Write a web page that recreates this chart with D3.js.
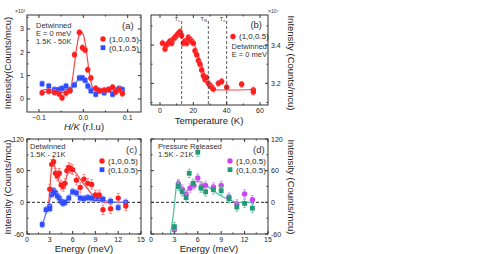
<!DOCTYPE html>
<html><head><meta charset="utf-8">
<script src="https://cdn.jsdelivr.net/npm/d3@7"></script>
<style>
body{margin:0;background:#fff}
svg{font-family:"Liberation Sans",Arial,sans-serif;display:block}
</style></head><body><div id="graph"></div>
<script>
// (a) H/K scans at E = 0, intensity x10^3
var aHK      = [-0.093,-0.078,-0.065,-0.055,-0.048,-0.039,-0.030,-0.020,-0.009,-0.002,0.004,0.010,0.017,0.028,0.036,0.047,0.057,0.066,0.073,0.081,0.088]
var aRed     = [0.27,0.33,0.28,0.22,0.05,0.25,0.35,1.9,2.85,2.2,2.1,1.25,0.9,0.45,0.35,0.38,0.4,0.5,0.3,0.4,0.23]
var aBlue    = [0.65,0.55,0.4,0.4,0.45,0.55,0.4,0.6,0.9,0.9,0.8,0.55,0.35,0.2,0.35,0.27,0.4,0.2,0.38,0.45,0.4]
var aFitHK   = [-0.09,-0.04,-0.03,-0.025,-0.02,-0.015,-0.01,-0.005,0,0.005,0.01,0.015,0.02,0.025,0.03,0.04,0.09]
var aFitRed  = [0.3,0.3,0.4,0.8,1.5,2.2,2.7,2.9,2.75,2.3,1.6,0.95,0.55,0.38,0.32,0.3,0.3]
var aFitBlue = [0.4,0.4,0.42,0.5,0.62,0.75,0.85,0.9,0.88,0.8,0.68,0.55,0.47,0.42,0.4,0.4,0.4]

// (b) temperature dependence of (1,0,0.5), intensity x10^4
var bT    = [1.5,3,4,5,6,7,8,9,10,11,12,13,14,15,16,17,18,19,20,21,22,23,24,25,26,27,28,29,30,31,32,35,37,40,49,56,56]
var bI    = [3.41,3.38,3.40,3.41,3.42,3.41,3.43,3.44,3.45,3.46,3.47,3.45,3.41,3.42,3.41,3.44,3.43,3.42,3.41,3.37,3.35,3.32,3.30,3.27,3.24,3.22,3.23,3.2,3.19,3.18,3.17,3.2,3.21,3.18,3.195,3.165,3.155]
var bFitT = [20,22,24,26,28,30,31,32,57]
var bFitI = [3.42,3.37,3.32,3.27,3.22,3.185,3.172,3.168,3.168]
var bLines = [13, 29, 40]
var bLineLabels = ['c', 'N', 's']

// (c) detwinned energy scans
var cE       = [3.0,3.25,3.5,3.75,4.0,4.25,4.5,4.75,5.0,5.25,5.5,5.75,6.0,6.5,7.0,7.5,8.0,8.5,9.0,9.5,10,11,12,13]
var cRed     = [25,72,77,55,50,55,33,30,36,60,66,64,62,42,28,44,36,34,14,14,-14,-12,8,-7]
var cBlueE   = [2.0,2.5,3.0,3.0,3.25,3.5,3.75,4.0,4.25,4.5,4.75,5.0,5.5,6.0,6.5,7.0,7.5,8.0,8.5,9.0,9.5,10,11,12,13]
var cBlue    = [-42,-14,-8,-12,15,22,18,12,8,2,-2,0,8,20,18,8,7,9,8,7,7,6,2,-10,0]
var cFitE    = [2.5,2.8,3.0,3.2,3.4,3.6,3.9,4.2,4.5,4.7,5.0,5.3,5.6,5.9,6.3,7.0,8.0,9.0,10,11,13]
var cFitRed  = [-22,-5,25,60,76,70,55,40,31,30,38,52,60,62,58,44,25,8,0,0,0]
var cFitBlueE= [2.0,2.4,2.8,3.1,3.4,3.7,4.0,4.4,4.7,5.0,5.4,5.8,6.1,6.5,7.0,8.0,9.0,10,11,13]
var cFitBlue = [-45,-25,-8,10,21,18,10,3,0,1,8,16,18,14,7,5,5,4,1,0]

// (d) pressure released energy scans
var dPurpleE = [3,3.5,4,4.5,5,5.5,6,6.5,7,8,9,10,11,12,13]
var dPurple  = [-52,35,25,15,27,32,46,30,32,29,32,10,-3,16,5]
var dGreenE  = [3,3.5,4,4.5,4.9,5.4,6,6.4,7,8,9,10,11,12,13]
var dGreen   = [-46,30,20,9,55,36,95,27,20,24,22,7,-9,-2,-11]
var dFitE    = [2.5,2.8,3.1,3.3,3.5,3.7,4.0,4.3,4.6,5.0,5.5,6.0,6.5,7.0,8.0,9.0,10,11,12,13]
var dFit     = [-60,-30,10,35,42,38,25,18,20,30,38,40,38,33,22,12,5,0,0,0]

var red = '#ff1f1f', redErr = '#ff7070', redFit = '#f24a4a'
var blue = '#2f4dff', blueErr = '#7d90ff', blueFit = '#5a72ff'
var purple = '#cc44f2', purpleErr = '#dd88f8'
var green = '#1f9b78', greenErr = '#62bea2', greenFit = '#4dbf9f'

var svg = d3.select('#graph').append('svg').attr('width', 492).attr('height', 254)

function panel(o){
  var g = svg.append('g').attr('transform', 'translate(' + o.left + ',' + o.top + ')')
  var x = d3.scaleLinear().domain(o.xDomain).range([0, o.width])
  var y = d3.scaleLinear().domain(o.yDomain).range([o.height, 0])
  g.append('defs').append('clipPath').attr('id', 'clip' + o.id)
    .append('rect').attr('width', o.width).attr('height', o.height)
  var plot = g.append('g').attr('clip-path', 'url(#clip' + o.id + ')')

  // ticks, inward on all sides
  var tk = '#333'
  function vt(v, len){
    g.append('line').attr('x1', x(v)).attr('x2', x(v)).attr('y1', o.height).attr('y2', o.height - len).attr('stroke', tk)
    g.append('line').attr('x1', x(v)).attr('x2', x(v)).attr('y1', 0).attr('y2', len).attr('stroke', tk)
  }
  function ht(v, len){
    g.append('line').attr('y1', y(v)).attr('y2', y(v)).attr('x1', 0).attr('x2', len).attr('stroke', tk)
    g.append('line').attr('y1', y(v)).attr('y2', y(v)).attr('x1', o.width).attr('x2', o.width - len).attr('stroke', tk)
  }
  o.xMinor.forEach(v => vt(v, 1.5))
  o.xTicks.forEach(v => vt(v, 3))
  o.yMinor.forEach(v => ht(v, 1.5))
  o.yTicks.forEach(v => ht(v, 3))

  g.selectAll('text.xt').data(o.xTicks).enter().append('text')
    .attr('x', d => x(d)).attr('y', o.height + 8).attr('text-anchor', 'middle')
    .attr('font-size', 7).attr('fill', '#222').text(o.xFormat)
  var right = o.ySide == 'right'
  g.selectAll('text.yt').data(o.yTicks).enter().append('text')
    .attr('x', right ? o.width + 3 : -3).attr('y', d => y(d) + 2.5)
    .attr('text-anchor', right ? 'start' : 'end')
    .attr('font-size', 7).attr('fill', '#222').text(o.yFormat)

  g.append('rect').attr('width', o.width).attr('height', o.height)
    .attr('fill', 'none').attr('stroke', '#333').attr('stroke-width', 1)
  return {g: g, plot: plot, x: x, y: y}
}

function fit(p, xs, ys, color){
  p.plot.append('path').datum(xs.map((d, i) => [d, ys[i]]))
    .attr('d', d3.line().x(d => p.x(d[0])).y(d => p.y(d[1])).curve(d3.curveCatmullRom))
    .attr('fill', 'none').attr('stroke', color).attr('stroke-width', 1.2)
}

function points(p, xs, ys, err, color, errColor, shape){
  var data = xs.map((d, i) => ({x: d, y: ys[i], e: typeof err == 'number' ? err : err[i]}))
  var sel = p.plot.selectAll(null).data(data).enter().append('g')
    .attr('transform', d => 'translate(' + p.x(d.x) + ',' + p.y(d.y) + ')')
  sel.append('line').attr('y1', d => p.y(d.y + d.e) - p.y(d.y)).attr('y2', d => p.y(d.y - d.e) - p.y(d.y))
    .attr('stroke', errColor).attr('stroke-width', 0.8)
  sel.append('line').attr('x1', -1.5).attr('x2', 1.5).attr('y1', d => p.y(d.y + d.e) - p.y(d.y)).attr('y2', d => p.y(d.y + d.e) - p.y(d.y))
    .attr('stroke', errColor).attr('stroke-width', 0.8)
  sel.append('line').attr('x1', -1.5).attr('x2', 1.5).attr('y1', d => p.y(d.y - d.e) - p.y(d.y)).attr('y2', d => p.y(d.y - d.e) - p.y(d.y))
    .attr('stroke', errColor).attr('stroke-width', 0.8)
  marker(sel, shape, color)
}

function marker(sel, shape, color){
  if (shape == 'square') sel.append('rect').attr('x', -2.4).attr('y', -2.4).attr('width', 4.8).attr('height', 4.8).attr('fill', color)
  else sel.append('circle').attr('r', 2.7).attr('fill', color)
}

function legend(p, items, lx, ly){
  items.forEach(function(it, i){
    var g = p.g.append('g').attr('transform', 'translate(' + lx + ',' + (ly + i * 8.7) + ')')
    marker(g, it.shape, it.color)
    g.append('text').attr('x', 6).attr('y', 2.8).attr('font-size', 8).attr('fill', '#222').text(it.label)
  })
}

function label(p, lines, lx, ly, anchor, size, gap){
  lines.forEach(function(t, i){
    p.g.append('text').attr('x', lx).attr('y', ly + i * (gap || 8.2)).attr('text-anchor', anchor || 'start')
      .attr('font-size', size || 7.5).attr('fill', '#333').text(t)
  })
}

function rotText(x, y, angle, t, size){
  svg.append('text').attr('transform', 'translate(' + x + ',' + y + ') rotate(' + angle + ')')
    .attr('text-anchor', 'middle').attr('font-size', size).attr('fill', '#222').text(t)
}

// ---- (a)
var pa = panel({id: 'a', left: 27, top: 15, width: 114, height: 97,
  xDomain: [-0.127, 0.13], yDomain: [-0.56, 3.6],
  xTicks: [-0.1, 0, 0.1], xMinor: [-0.05, 0.05], yTicks: [0, 1, 2, 3], yMinor: [0.5, 1.5, 2.5, 3.5],
  xFormat: d3.format('.1f'), yFormat: d => d, ySide: 'left'})
fit(pa, aFitHK, aFitRed, redFit)
fit(pa, aFitHK, aFitBlue, blueFit)
points(pa, aHK, aBlue, 0.12, blue, blueErr, 'square')
points(pa, aHK, aRed, 0.12, red, redErr, 'circle')
legend(pa, [{shape: 'circle', color: red, label: '(1,0,0.5)'}, {shape: 'square', color: blue, label: '(0,1,0.5)'}], 76, 24)
label(pa, ['Detwinned', 'E = 0 meV', '1.5K - 50K'], 9, 13)
label(pa, ['(a)'], 95, 14, 'start', 9.5)
svg.append('text').attr('x', 15).attr('y', 13).attr('font-size', 5).attr('fill', '#333').text('×10³')

// ---- (b)
var pb = panel({id: 'b', left: 151, top: 15, width: 117, height: 90,
  xDomain: [-5.4, 64.8], yDomain: [3.087, 3.557],
  xTicks: [0, 20, 40, 60], xMinor: [10, 30, 50], yTicks: [3.2, 3.4], yMinor: [3.1, 3.3, 3.5],
  xFormat: d => d, yFormat: d3.format('.1f'), ySide: 'right'})
bLines.forEach(function(t, i){
  pb.g.append('line').attr('x1', pb.x(t)).attr('x2', pb.x(t)).attr('y1', 6).attr('y2', 90)
    .attr('stroke', '#333').attr('stroke-dasharray', '3,2').attr('stroke-width', 0.8)
  var tx = pb.g.append('text').attr('x', pb.x(t) - 1.5).attr('y', 6).attr('text-anchor', 'end').attr('font-size', 5.5).attr('fill', '#333')
  tx.append('tspan').text('T')
  tx.append('tspan').attr('font-size', 4).attr('dy', 1.2).text(bLineLabels[i])
})
fit(pb, bFitT, bFitI, redFit)
points(pb, bT, bI, 0.015, red, redErr, 'circle')
legend(pb, [{shape: 'circle', color: red, label: '(1,0,0.5)'}], 82, 21.5)
label(pb, ['(b)'], 111, 13, 'end', 9.5)
label(pb, ['Detwinned', 'E = 0 meV'], 116, 34, 'end', 7.5, 7.5)
svg.append('text').attr('x', 268).attr('y', 13).attr('font-size', 5).attr('fill', '#333').text('×10⁴')

// ---- (c)
var pc = panel({id: 'c', left: 27, top: 139, width: 114, height: 95,
  xDomain: [0, 15], yDomain: [-60, 120],
  xTicks: [0, 3, 6, 9, 12, 15], xMinor: [1.5, 4.5, 7.5, 10.5, 13.5], yTicks: [-60, 0, 60, 120], yMinor: [-30, 30, 90],
  xFormat: d => d, yFormat: d => d, ySide: 'left'})
pc.plot.append('line').attr('x1', 0).attr('x2', 114).attr('y1', pc.y(0)).attr('y2', pc.y(0))
  .attr('stroke', '#111').attr('stroke-dasharray', '3,2').attr('stroke-width', 0.9)
fit(pc, cFitE, cFitRed, redFit)
fit(pc, cFitBlueE, cFitBlue, blueFit)
points(pc, cBlueE, cBlue, 6, blue, blueErr, 'square')
points(pc, cE, cRed, 9, red, redErr, 'circle')
legend(pc, [{shape: 'circle', color: red, label: '(1,0,0.5)'}, {shape: 'square', color: blue, label: '(0,1,0.5)'}], 75, 22)
label(pc, ['Detwinned', '1.5K - 21K'], 3, 10)
label(pc, ['(c)'], 99, 14, 'start', 9.5)

// ---- (d)
var pd = panel({id: 'd', left: 151, top: 139, width: 117, height: 95,
  xDomain: [0, 15], yDomain: [-60, 120],
  xTicks: [0, 3, 6, 9, 12, 15], xMinor: [1.5, 4.5, 7.5, 10.5, 13.5], yTicks: [-60, 0, 60, 120], yMinor: [-30, 30, 90],
  xFormat: d => d, yFormat: d => d, ySide: 'right'})
pd.plot.append('line').attr('x1', 0).attr('x2', 117).attr('y1', pd.y(0)).attr('y2', pd.y(0))
  .attr('stroke', '#111').attr('stroke-dasharray', '3,2').attr('stroke-width', 0.9)
fit(pd, dFitE, dFit, greenFit)
points(pd, dPurpleE, dPurple, 8, purple, purpleErr, 'circle')
points(pd, dGreenE, dGreen, 8, green, greenErr, 'square')
legend(pd, [{shape: 'circle', color: purple, label: '(1,0,0.5)'}, {shape: 'square', color: green, label: '(0,1,0.5)'}], 79, 22)
label(pd, ['Pressure Released', '1.5K - 21K'], 7, 10)
label(pd, ['(d)'], 102, 14, 'start', 9.5)

// axis titles
rotText(11, 63, -90, 'Intensity(Counts/mcu)', 9.5)
rotText(11, 187, -90, 'Intensity (Counts/mcu)', 9.5)
rotText(288, 63, 90, 'Intensity (Counts/mcu)', 9.5)
rotText(288, 187, 90, 'Intensity (Counts/mcu)', 9.5)
var hk = svg.append('text').attr('x', 84).attr('y', 129.5).attr('text-anchor', 'middle').attr('font-size', 9.5).attr('fill', '#222')
hk.append('tspan').attr('font-style', 'italic').text('H/K')
hk.append('tspan').text(' (r.l.u)')
svg.append('text').attr('x', 209).attr('y', 123.5).attr('text-anchor', 'middle').attr('font-size', 9.5).attr('fill', '#222').text('Temperature (K)')
svg.append('text').attr('x', 84).attr('y', 252).attr('text-anchor', 'middle').attr('font-size', 9.5).attr('fill', '#222').text('Energy (meV)')
svg.append('text').attr('x', 209).attr('y', 252).attr('text-anchor', 'middle').attr('font-size', 9.5).attr('fill', '#222').text('Energy (meV)')
</script></body></html>
